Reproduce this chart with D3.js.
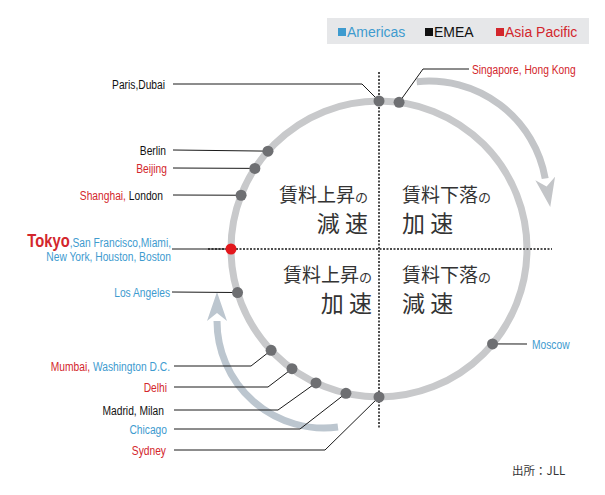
<!DOCTYPE html>
<html>
<head>
<meta charset="utf-8">
<script src="https://cdn.jsdelivr.net/npm/d3@7"></script>
<style>
  body { margin: 0; background: #fff; }
  svg text { font-family: "Liberation Sans", Arial, sans-serif; }
  .jp { font-family: "Noto Sans CJK JP", sans-serif !important; }
</style>
</head>
<body>
<div id="chart"></div>
<script>
// regions used for the legend and the label colours
const regions = ["Americas", "EMEA", "Asia Pacific"];

// every label is a list of lines, every line a list of [text, region] pieces
const cityLabels = [
  [[["Paris,Dubai", "EMEA"]]],
  [[["Singapore, Hong Kong", "Asia Pacific"]]],
  [[["Berlin", "EMEA"]]],
  [[["Beijing", "Asia Pacific"]]],
  [[["Shanghai, ", "Asia Pacific"], ["London", "EMEA"]]],
  [[["Tokyo", "Asia Pacific"], [",San Francisco,Miami,", "Americas"]], [["New York, Houston, Boston", "Americas"]]],
  [[["Los Angeles", "Americas"]]],
  [[["Mumbai, ", "Asia Pacific"], ["Washington D.C.", "Americas"]]],
  [[["Delhi", "Asia Pacific"]]],
  [[["Madrid, Milan", "EMEA"]]],
  [[["Chicago", "Americas"]]],
  [[["Sydney", "Asia Pacific"]]],
  [[["Moscow", "Americas"]]]
];
// position on the rent clock, in clock hours (0 = 12 o'clock)
const clockHours = [0, 0.26, 10.38, 10.1, 9.71, 9.0, 8.43, 7.56, 7.2, 6.84, 6.43, 6.0, 4.33];
const highlightCity = "Tokyo";

const quadrantTitles = ["賃料上昇の", "賃料下落の", "賃料上昇の", "賃料下落の"];
const quadrantSpeeds = ["減 速", "加 速", "加 速", "減 速"];
const sourceNote = "出所：JLL";

// ---- layout (not data) ----
const width = 605, height = 495;
const cx = 379, cy = 249, R = 148;
// y of leader line, text x, start of the line, elbow x (if the line bends)
const labelLayout = [
  {y: 84, tx: 165, lx: 173, ex: 362},
  {y: 69, tx: 472, lx: 469, ex: 423, right: true},
  {y: 150, tx: 166, lx: 173},
  {y: 168, tx: 167, lx: 173},
  {y: 195, tx: 163, lx: 173},
  {y: 249, tx: 171, lx: 172},
  {y: 292, tx: 170, lx: 172},
  {y: 366, tx: 170, lx: 174, ex: 251},
  {y: 387, tx: 167, lx: 174, ex: 268},
  {y: 410, tx: 164, lx: 174, ex: 278},
  {y: 429, tx: 167, lx: 174, ex: 300},
  {y: 450, tx: 166, lx: 174, ex: 325},
  {y: 344, tx: 532, lx: 527, right: true}
];
const narrow = 0.82; // squeeze the sans font to look like a condensed face

const regionColor = d3.scaleOrdinal().domain(regions).range(["#3e9bcf", "#111111", "#d3262c"]);
const angle = d3.scaleLinear().domain([0, 12]).range([0, 2 * Math.PI]);
const px = h => cx + R * Math.sin(angle(h));
const py = h => cy - R * Math.cos(angle(h));

const svg = d3.select("#chart").append("svg")
  .attr("width", width).attr("height", height);

// legend
const legend = svg.append("g");
legend.append("rect").attr("x", 327).attr("y", 18).attr("width", 262).attr("height", 26).attr("fill", "#e6e7e9");
const legendX = [338, 425, 496];
regions.forEach((r, i) => {
  legend.append("rect").attr("x", legendX[i]).attr("y", 28).attr("width", 8).attr("height", 8).attr("fill", regionColor(r));
  legend.append("text").attr("x", legendX[i] + 9).attr("y", 37)
    .style("font-size", "14px").attr("fill", regionColor(r)).text(r);
});

// main clock circle
svg.append("circle").attr("cx", cx).attr("cy", cy).attr("r", R)
  .attr("fill", "none").attr("stroke", "#c8c9cb").attr("stroke-width", 7);

// curved arrows (clockwise), compass degrees
function curvedArrow(acx, acy, ar, d0, d1, colour) {
  const rad = d => d * Math.PI / 180;
  const p = d3.path();
  p.arc(acx, acy, ar, rad(d0 - 90), rad(d1 - 90), false);
  svg.append("path").attr("d", p.toString()).attr("fill", "none")
    .attr("stroke", colour).attr("stroke-width", 7);
  const t = rad(d1);
  const ex = acx + ar * Math.sin(t), ey = acy - ar * Math.cos(t);
  const tx = Math.cos(t), ty = Math.sin(t);      // tangent
  const nx = Math.sin(t), ny = -Math.cos(t);     // normal
  const head = [[ex + tx * 29, ey + ty * 29], [ex + nx * 10, ey + ny * 10],
                [ex + tx * 8, ey + ty * 8], [ex - nx * 10, ey - ny * 10]];
  svg.append("path").attr("d", "M" + head.join("L") + "Z").attr("fill", colour);
}
curvedArrow(429, 199, 118, -6, 80, "#c3c5c8");
curvedArrow(324, 321, 107, 172.5, 270, "#bcc6cf");

// dashed quadrant axes
const axes = svg.append("g").attr("stroke", "#4d4d4d").attr("stroke-width", 2).attr("stroke-dasharray", "2,1.5");
axes.append("line").attr("x1", cx).attr("x2", cx).attr("y1", 72).attr("y2", 428);
axes.append("line").attr("x1", 208).attr("x2", 552).attr("y1", cy).attr("y2", cy);

// quadrant texts
const qPos = [
  {x: 368, y1: 202, y2: 232, anchor: "end"},
  {x: 402, y1: 202, y2: 232, anchor: "start"},
  {x: 372, y1: 282, y2: 312, anchor: "end"},
  {x: 402, y1: 282, y2: 312, anchor: "start"}
];
quadrantTitles.forEach((t, i) => {
  const q = qPos[i];
  const tt = svg.append("text").attr("class", "jp").attr("x", q.x).attr("y", q.y1)
    .attr("text-anchor", q.anchor).attr("fill", "#333");
  tt.append("tspan").style("font-size", "19px").text(t.slice(0, -1));
  tt.append("tspan").style("font-size", "13px").text(t.slice(-1));
  svg.append("text").attr("class", "jp").attr("x", q.x).attr("y", q.y2)
    .attr("text-anchor", q.anchor).attr("fill", "#333")
    .style("font-size", "23px").text(quadrantSpeeds[i]);
});

// leader lines
const leaders = svg.append("g").attr("fill", "none").attr("stroke", "#1a1a1a").attr("stroke-width", 1);
clockHours.forEach((h, i) => {
  const L = labelLayout[i];
  const pts = [[L.lx, L.y]];
  if (L.ex !== undefined) pts.push([L.ex, L.y]);
  pts.push([px(h), py(h)]);
  leaders.append("path").attr("d", d3.line()(pts));
});

// dots
svg.selectAll("circle.city").data(clockHours).enter().append("circle")
  .attr("class", "city")
  .attr("cx", d => px(d)).attr("cy", d => py(d)).attr("r", 5.5)
  .attr("fill", (d, i) => cityLabels[i][0][0][0] === highlightCity ? "#e3171c" : "#6e6f72");

// labels
cityLabels.forEach((lines, i) => {
  const L = labelLayout[i];
  const lineGap = 14;
  const y0 = L.y - (lines.length - 1) * lineGap / 2;
  lines.forEach((line, j) => {
    const t = svg.append("g")
      .attr("transform", `translate(${L.tx},${y0 + j * lineGap}) scale(${narrow},1)`)
      .append("text").attr("x", 0).attr("y", 0)
      .attr("dy", "0.36em").attr("text-anchor", L.right ? "start" : "end")
      .style("font-size", "12.5px");
    line.forEach(([txt, reg]) => {
      const s = t.append("tspan").attr("fill", regionColor(reg)).text(txt);
      if (txt === highlightCity) s.style("font-size", "18px").style("font-weight", "bold");
    });
  });
});

// source
svg.append("text").attr("class", "jp").attr("x", 512).attr("y", 475)
  .style("font-size", "11.5px").attr("fill", "#333").text(sourceNote);
</script>
</body>
</html>
